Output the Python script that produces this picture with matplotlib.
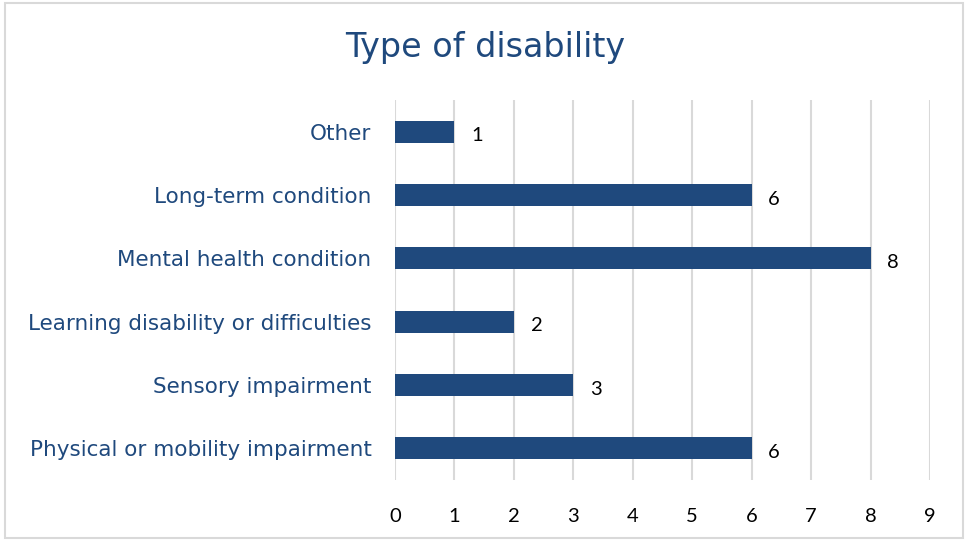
import matplotlib
matplotlib.use("Agg")
import matplotlib.pyplot as plt
from matplotlib.patches import Rectangle

categories = ["Physical or mobility impairment", "Sensory impairment",
              "Learning disability or difficulties", "Mental health condition",
              "Long-term condition", "Other"]
values = [6, 3, 2, 8, 6, 1]
xticks = [0, 1, 2, 3, 4, 5, 6, 7, 8, 9]

blue = "#1F497D"
grid = "#D9D9D9"

fig = plt.figure(figsize=(9.69, 5.4), dpi=100)
ax = fig.add_axes([395/969, 1-480/540, (930-395)/969, 380/540])

y = list(range(len(categories)))
ax.barh(y, values, height=0.35, color=blue, zorder=3)
for yi, v in zip(y, values):
    ax.annotate(str(v), (v, yi), xytext=(12, -3), textcoords="offset points",
                ha="left", va="center", fontsize=14.5, family="Lato", color="black")

ax.set_xlim(0, 9)
ax.set_ylim(-0.5, len(categories) - 0.5)
ax.set_xticks(xticks)
ax.set_xticklabels([str(t) for t in xticks], fontsize=14.5, family="Lato")
ax.set_yticks(y)
ax.set_yticklabels(categories, fontsize=15.5, color=blue, family="DejaVu Sans")
ax.tick_params(axis="x", length=0, pad=20)
ax.tick_params(axis="y", length=0, pad=17)
for s in ax.spines.values():
    s.set_visible(False)
ax.grid(axis="x", color=grid, linewidth=1.5, zorder=0)
ax.set_axisbelow(True)

fig.text(485/969, 1-47/540, "Type of disability", ha="center", va="center",
         fontsize=24, color=blue, family="DejaVu Sans")

fig.patches.append(Rectangle((5/969, 0.004), 958/969, 0.99, transform=fig.transFigure,
                             fill=False, edgecolor=grid, linewidth=1.5))

fig.savefig("out.png", dpi=100)
